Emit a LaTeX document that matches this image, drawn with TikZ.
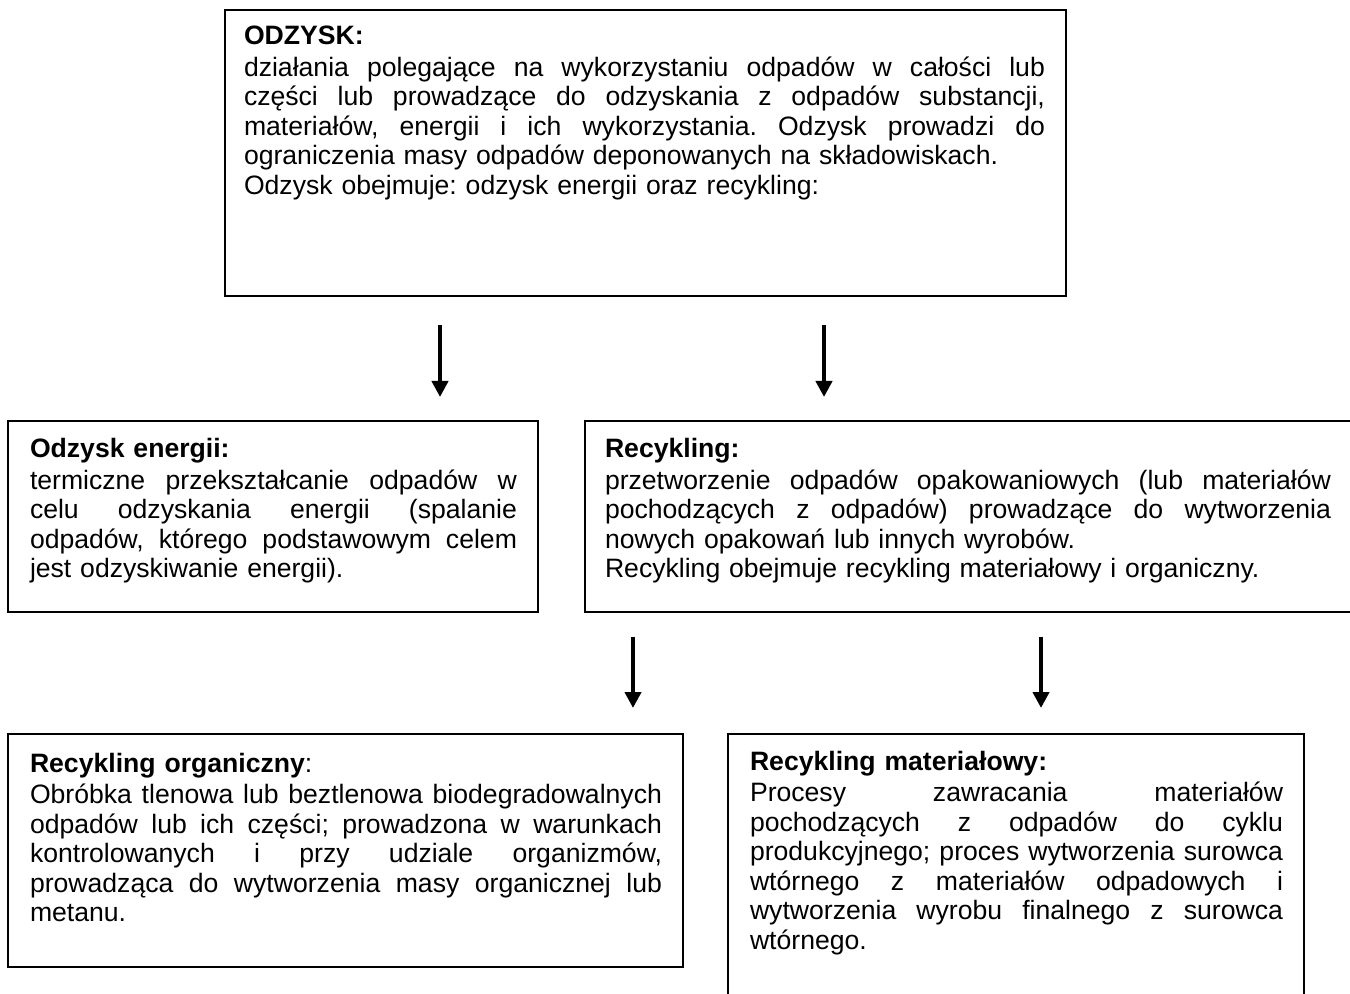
\documentclass[tikz,border=0pt]{standalone}
\usepackage{fontspec}
\setmainfont{Liberation Sans}
\usetikzlibrary{arrows.meta}
\frenchspacing
\newcommand\jline[1]{\leavevmode\hbox to \hsize{\spaceskip=0pt\xspaceskip=0pt #1}}
\begin{document}
\begin{tikzpicture}[x=0.5pt,y=-0.5pt,
  boxst/.style={draw=black, line width=0.9pt, inner sep=0pt, outer sep=0pt, anchor=north west},
  txt/.style={anchor=base west, inner sep=0pt, outer sep=0pt, align=left,
              font=\fontsize{13.3pt}{14.75pt}\selectfont\frenchspacing},
  arr/.style={line width=2pt, -{Triangle[width=8pt,length=8pt]}}]
\useasboundingbox (0,0) rectangle (1350,994);

% boxes
\node[boxst, minimum width=420.5pt, minimum height=143pt] (b1) at (225,10) {};
\node[boxst, minimum width=265pt, minimum height=95.5pt] (b2) at (8,421) {};
\node[boxst, minimum width=384.5pt, minimum height=95.5pt] (b3) at (585,421) {};
\node[boxst, minimum width=337.5pt, minimum height=116.5pt] (b4) at (8,734) {};
\node[boxst, minimum width=288pt, minimum height=135pt] (b5) at (728,734) {};

% texts
\node[txt, text width=400.5pt] (t1) at (244,45) {%
\textbf{ODZYSK:}\\[1pt]
\jline{działania polegające na wykorzystaniu odpadów w całości lub}\\
\jline{części lub prowadzące do odzyskania z odpadów substancji,}\\
\jline{materiałów, energii i ich wykorzystania. Odzysk prowadzi do}\\
ograniczenia masy odpadów deponowanych na składowiskach.\\
Odzysk obejmuje: odzysk energii oraz recykling:};

\node[txt, text width=243.5pt] (t2) at (30,458) {%
\textbf{Odzysk energii:}\\[1pt]
\jline{termiczne przekształcanie odpadów w}\\
\jline{celu odzyskania energii (spalanie}\\
\jline{odpadów, którego podstawowym celem}\\
jest odzyskiwanie energii).};

\node[txt, text width=363pt] (t3) at (605,458) {%
\textbf{Recykling:}\\[1pt]
\jline{przetworzenie odpadów opakowaniowych (lub materiałów}\\
\jline{pochodzących z odpadów) prowadzące do wytworzenia}\\
nowych opakowań lub innych wyrobów.\\
Recykling obejmuje recykling materiałowy i organiczny.};

\node[txt, text width=316pt] (t4) at (30,772) {%
\textbf{Recykling organiczny}:\\[1pt]
\jline{Obróbka tlenowa lub beztlenowa biodegradowalnych}\\
\jline{odpadów lub ich części; prowadzona w warunkach}\\
\jline{kontrolowanych i przy udziale organizmów,}\\
\jline{prowadząca do wytworzenia masy organicznej lub}\\
metanu.};

\node[txt, text width=266.5pt] (t5) at (750,770) {%
\textbf{Recykling materiałowy:}\\[1pt]
\jline{Procesy zawracania materiałów}\\
\jline{pochodzących z odpadów do cyklu}\\
\jline{produkcyjnego; proces wytworzenia surowca}\\
\jline{wtórnego z materiałów odpadowych i}\\
\jline{wytworzenia wyrobu finalnego z surowca}\\
wtórnego.};

% arrow end points
\coordinate (a1s) at (440,325); \coordinate (a1e) at (440,397);
\coordinate (a2s) at (824,325); \coordinate (a2e) at (824,397);
\coordinate (a3s) at (633,637); \coordinate (a3e) at (633,708);
\coordinate (a4s) at (1041,637); \coordinate (a4e) at (1041,708);

\draw[arr] (a1s) -- (a1e);
\draw[arr] (a2s) -- (a2e);
\draw[arr] (a3s) -- (a3e);
\draw[arr] (a4s) -- (a4e);
\end{tikzpicture}
\end{document}
